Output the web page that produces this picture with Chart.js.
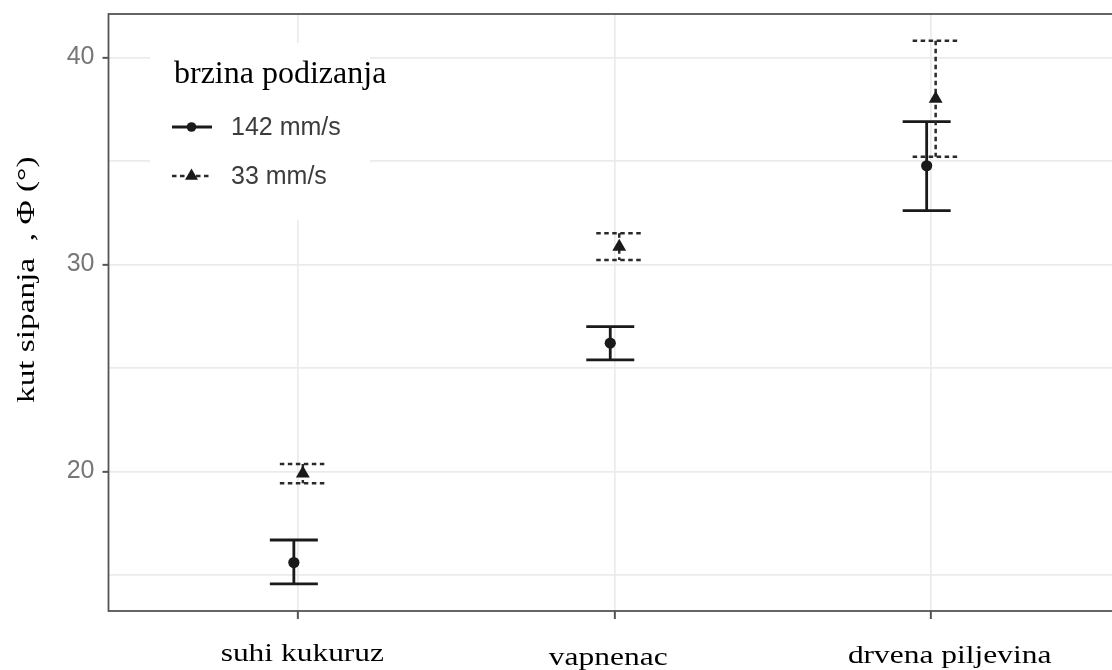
<!DOCTYPE html>
<html><head><meta charset="utf-8">
<script src="https://cdn.jsdelivr.net/npm/chart.js@4"></script>
<style>html,body{margin:0;padding:0;overflow:hidden;background:#fff;width:1112px;height:670px}canvas{display:block}</style>
</head><body><canvas id="c" width="1130" height="670"></canvas>
<script>
// ---- data ----
const categories = ['suhi kukuruz', 'vapnenac', 'drvena piljevina'];
const seriesNames = ['142 mm/s', '33 mm/s'];
const mean142 = [15.6, 26.2, 34.77];
const low142  = [14.57, 25.39, 32.6];
const high142 = [16.69, 27.0, 36.9];
const mean33  = [19.9, 30.86, 38.0];
const low33   = [19.43, 30.22, 35.21];
const high33  = [20.36, 31.51, 40.81];
const yGridValues = [15, 20, 25, 30, 35, 40];
const yTickLabels = [20, 30, 40];
const legendTitle = 'brzina podizanja';
const yAxisTitle = 'kut sipanja  , \u03A6 (\u00B0)';

// ---- style ----
const dodge = 0.0142;
const xLabelStyle = { dx: [4, -6.5, 18.5], baseline: [661, 665, 663] };

function points(means, lows, highs, off) {
  return means.map((m, i) => ({ x: i + off, y: m, lo: lows[i], hi: highs[i] }));
}

const errorBars = {
  id: 'errorBars',
  beforeDatasetsDraw(chart) {
    const { ctx, scales: { x, y } } = chart;
    chart.data.datasets.forEach(ds => {
      ctx.save();
      ctx.strokeStyle = ds.errColor;
      ctx.lineWidth = ds.errWidth;
      ctx.setLineDash(ds.errDash);
      const cw = ds.capWidth / 2;
      ds.data.forEach(p => {
        const px = x.getPixelForValue(p.x);
        const yl = y.getPixelForValue(p.lo), yh = y.getPixelForValue(p.hi);
        ctx.beginPath();
        ctx.moveTo(px, yh); ctx.lineTo(px, yl);
        ctx.moveTo(px - cw, yh); ctx.lineTo(px + cw, yh);
        ctx.moveTo(px - cw, yl); ctx.lineTo(px + cw, yl);
        ctx.stroke();
      });
      ctx.restore();
    });
  }
};

const decorations = {
  id: 'decorations',
  afterDraw(chart) {
    const { ctx, chartArea: a, scales: { x } } = chart;
    ctx.save();
    // panel border
    ctx.strokeStyle = '#555';
    ctx.lineWidth = 1.8;
    ctx.strokeRect(a.left, a.top, a.right - a.left, a.bottom - a.top);

    // x category labels
    ctx.fillStyle = '#000';
    ctx.font = '26px "Liberation Serif"';
    ctx.textAlign = 'center';
    ctx.textBaseline = 'alphabetic';
    categories.forEach((c, i) => {
      ctx.save();
      ctx.translate(x.getPixelForValue(i) + xLabelStyle.dx[i], xLabelStyle.baseline[i]);
      ctx.scale(1.21, 1);
      ctx.fillText(c, 0, 0);
      ctx.restore();
    });

    // y axis title
    ctx.save();
    ctx.translate(34, 403);
    ctx.rotate(-Math.PI / 2);
    ctx.scale(1.28, 1);
    ctx.textAlign = 'left';
    ctx.fillText(yAxisTitle, 0, 0);
    ctx.restore();

    // legend
    ctx.fillStyle = '#fff';
    ctx.fillRect(150, 43, 220, 177);
    ctx.fillStyle = '#000';
    ctx.font = '32px "Liberation Serif"';
    ctx.textAlign = 'left';
    ctx.fillText(legendTitle, 174, 83);

    const ds = chart.data.datasets;
    const rows = [127, 176];
    ds.forEach((d, i) => {
      const yy = rows[i];
      ctx.save();
      ctx.strokeStyle = d.errColor;
      ctx.lineWidth = d.errWidth;
      ctx.setLineDash(d.errDash);
      ctx.beginPath(); ctx.moveTo(172, yy); ctx.lineTo(212, yy); ctx.stroke();
      ctx.restore();
      ctx.fillStyle = d.backgroundColor;
      ctx.beginPath();
      const cx = 191.5;
      if (d.pointStyle === 'circle') {
        ctx.arc(cx, yy, 4.8, 0, Math.PI * 2);
      } else {
        const r = 7.5;
        ctx.moveTo(cx, yy - r);
        ctx.lineTo(cx + r * Math.sin(2 * Math.PI / 3), yy + r / 2);
        ctx.lineTo(cx - r * Math.sin(2 * Math.PI / 3), yy + r / 2);
        ctx.closePath();
      }
      ctx.fill();
      ctx.fillStyle = '#3c3c3c';
      ctx.font = '25px "Liberation Sans"';
      ctx.textBaseline = 'middle';
      ctx.fillText(d.label, 231, yy + 1);
      ctx.textBaseline = 'alphabetic';
    });
    ctx.restore();
  }
};

new Chart(document.getElementById('c'), {
  type: 'scatter',
  data: {
    datasets: [
      { label: seriesNames[0], data: points(mean142, low142, high142, -dodge),
        pointStyle: 'circle', pointRadius: 5.6, pointHoverRadius: 5.6,
        backgroundColor: '#1a1a1a', borderColor: '#1a1a1a', borderWidth: 0,
        errColor: '#1a1a1a', errWidth: 2.8, errDash: [], capWidth: 48 },
      { label: seriesNames[1], data: points(mean33, low33, high33, dodge),
        pointStyle: 'triangle', pointRadius: 8, pointHoverRadius: 8,
        backgroundColor: '#1a1a1a', borderColor: '#1a1a1a', borderWidth: 0,
        errColor: '#2a2a2a', errWidth: 2.5, errDash: [4.5, 3.5], capWidth: 46 }
    ]
  },
  options: {
    responsive: false,
    animation: false,
    events: [],
    layout: { padding: { top: 14, right: 9, left: 0, bottom: 0 } },
    plugins: { legend: { display: false }, tooltip: { enabled: false } },
    scales: {
      x: {
        type: 'linear', min: -0.6, max: 2.6,
        afterBuildTicks: s => { s.ticks = categories.map((c, i) => ({ value: i })); },
        afterFit: s => { s.height = 59; s.paddingLeft = 0; s.paddingRight = 0; },
        border: { display: false },
        grid: { color: '#ebebeb', lineWidth: 1.7, tickLength: 8, tickColor: '#555', tickWidth: 2 },
        ticks: { callback: () => '', padding: 0, font: { size: 1 } }
      },
      y: {
        type: 'linear', min: 13.26, max: 42.1,
        afterBuildTicks: s => { s.ticks = yGridValues.map(v => ({ value: v })); },
        afterFit: s => { s.width = 108.5; s.paddingTop = 0; s.paddingBottom = 0; },
        border: { display: false },
        grid: { color: '#ebebeb', lineWidth: 1.7, tickLength: 6, tickWidth: 2,
          tickColor: c => (c.tick && yTickLabels.includes(c.tick.value)) ? '#555' : 'rgba(0,0,0,0)' },
        ticks: {
          callback: v => yTickLabels.includes(v) ? String(v) : '',
          color: '#777', padding: 8,
          font: { family: '"Liberation Sans"', size: 25, lineHeight: 1 }
        }
      }
    }
  },
  plugins: [errorBars, decorations]
});
</script>
</body></html>
